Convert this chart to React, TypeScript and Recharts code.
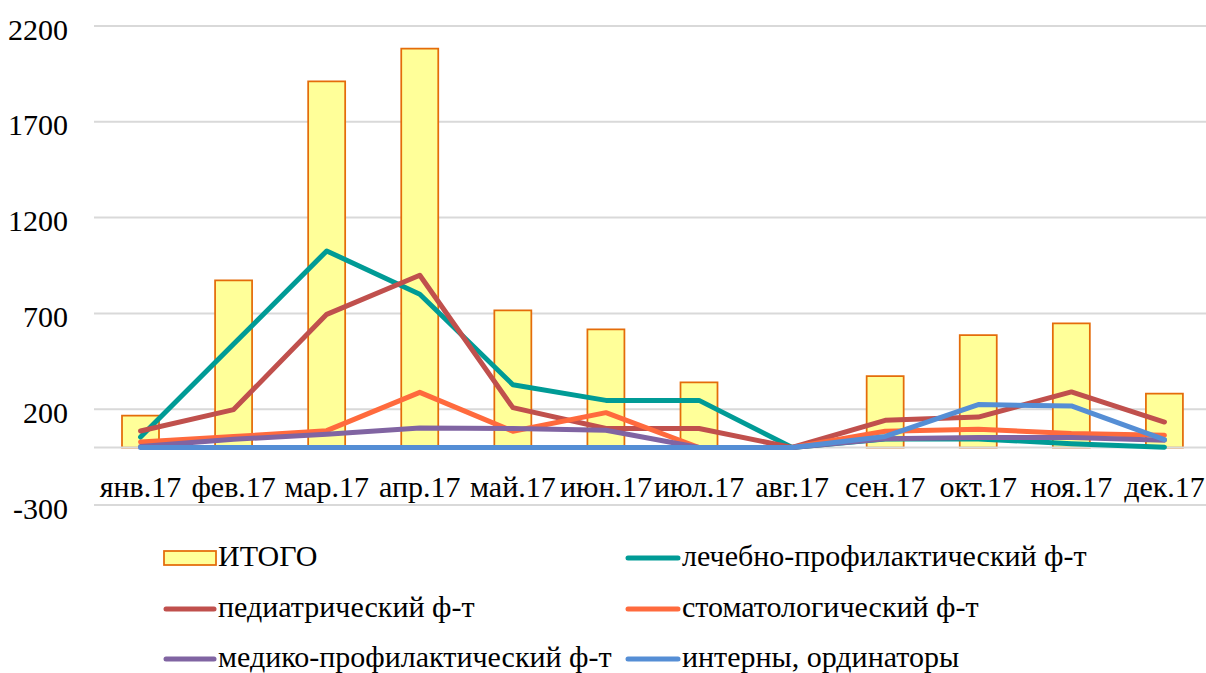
import React from 'react';
import { ComposedChart, Bar, Line, XAxis, YAxis, CartesianGrid, ReferenceLine } from 'recharts';

const months = ['янв.17', 'фев.17', 'мар.17', 'апр.17', 'май.17', 'июн.17', 'июл.17', 'авг.17', 'сен.17', 'окт.17', 'ноя.17', 'дек.17'];
const totalValues = [166, 873, 1911, 2082, 716, 617, 340, 0, 373, 587, 648, 281];
const lechValues = [55, 540, 1026, 800, 328, 246, 246, 0, 45, 45, 20, 2];
const pedValues = [86, 198, 695, 899, 208, 99, 99, 0, 142, 159, 290, 133];
const stomValues = [29, 57, 88, 288, 85, 182, 0, 0, 85, 95, 73, 64];
const medValues = [5, 43, 69, 102, 99, 90, 0, 0, 46, 52, 52, 38];
const internValues = [0, 0, 0, 0, 0, 0, 0, 0, 58, 224, 217, 41];
const yTicks = [-300, 200, 700, 1200, 1700, 2200];

const totalSeries = { key: 'total', name: 'ИТОГО', fill: '#ffff99', stroke: '#e46c0a' };
const lineSeries = [
  { key: 'lech', name: 'лечебно-профилактический ф-т', color: '#009b96', values: lechValues },
  { key: 'ped', name: 'педиатрический ф-т', color: '#c0504d', values: pedValues },
  { key: 'stom', name: 'стоматологический ф-т', color: '#ff6a3d', values: stomValues },
  { key: 'med', name: 'медико-профилактический ф-т', color: '#8064a2', values: medValues },
  { key: 'intern', name: 'интерны, ординаторы', color: '#558ed5', values: internValues },
];

const data = months.map((m, i) => {
  const row: Record<string, any> = { month: m, total: totalValues[i] };
  lineSeries.forEach((s) => {
    row[s.key] = s.values[i];
  });
  return row;
});

const textStyle: React.CSSProperties = {
  fontFamily: "'Liberation Serif', Tinos, 'Times New Roman', 'DejaVu Serif', serif",
  fontSize: 30,
  fill: '#000',
};

const YTick = (props: any) => {
  const { x, y, payload } = props;
  return (
    <text x={x} y={y} textAnchor="end" dy={13.5} style={textStyle}>
      {payload.value}
    </text>
  );
};

const XTick = (props: any) => {
  const { x, y, payload } = props;
  return (
    <text x={x} y={y} textAnchor="middle" dy={-8} style={textStyle}>
      {payload.value}
    </text>
  );
};

const legendItems = [
  { name: totalSeries.name, type: 'bar', color: totalSeries.stroke },
  ...lineSeries.map((s) => ({ name: s.name, type: 'line', color: s.color })),
];

const LegendBlock = () => {
  const colX = [164, 626];
  const symW = [52, 54];
  const rowY = [558, 609, 659];
  return (
    <svg width={1206} height={673} style={{ position: 'absolute', left: 0, top: 0, pointerEvents: 'none' }}>
      {legendItems.map((it, i) => {
        const col = i % 2;
        const row = Math.floor(i / 2);
        const x0 = colX[col];
        const w = symW[col];
        const cy = rowY[row];
        return (
          <g key={it.name}>
            {it.type === 'bar' ? (
              <rect x={x0} y={cy - 7} width={w} height={14} fill={totalSeries.fill} stroke={totalSeries.stroke} strokeWidth={1.75} />
            ) : (
              <line x1={x0 + 2} x2={x0 + w - 2} y1={cy} y2={cy} stroke={it.color} strokeWidth={5} strokeLinecap="round" />
            )}
            <text x={x0 + w + 2} y={cy} dy={8} style={textStyle}>
              {it.name}
            </text>
          </g>
        );
      })}
    </svg>
  );
};

export default function App() {
  return (
    <div style={{ position: 'absolute', left: 0, top: 0, width: 1206, height: 673, overflow: 'hidden', background: '#fff' }}>
      <ComposedChart
        width={1211}
        height={673}
        data={data}
        margin={{ top: 26, right: 0, bottom: 138, left: 0 }}
      >
        <CartesianGrid horizontal vertical={false} stroke="#d9d9d9" strokeWidth={2} />
        <XAxis
          dataKey="month"
          axisLine={false}
          tickLine={false}
          tickSize={0}
          tickMargin={0}
          height={30}
          interval={0}
          tick={<XTick />}
        />
        <YAxis
          domain={[-300, 2200]}
          ticks={yTicks}
          type="number"
          axisLine={false}
          tickLine={false}
          tickSize={0}
          tickMargin={26}
          width={94}
          interval={0}
          tick={<YTick />}
        />
        <ReferenceLine y={0} stroke="#d9d9d9" strokeWidth={2} />
        <Bar
          dataKey={totalSeries.key}
          name={totalSeries.name}
          fill={totalSeries.fill}
          stroke={totalSeries.stroke}
          strokeWidth={1.75}
          barSize={37}
          isAnimationActive={false}
        />
        {lineSeries.map((s) => (
          <Line
            key={s.key}
            type="linear"
            dataKey={s.key}
            name={s.name}
            stroke={s.color}
            strokeWidth={5}
            strokeLinecap="round"
            strokeLinejoin="round"
            dot={false}
            activeDot={false}
            isAnimationActive={false}
          />
        ))}
      </ComposedChart>
      <LegendBlock />
    </div>
  );
}
